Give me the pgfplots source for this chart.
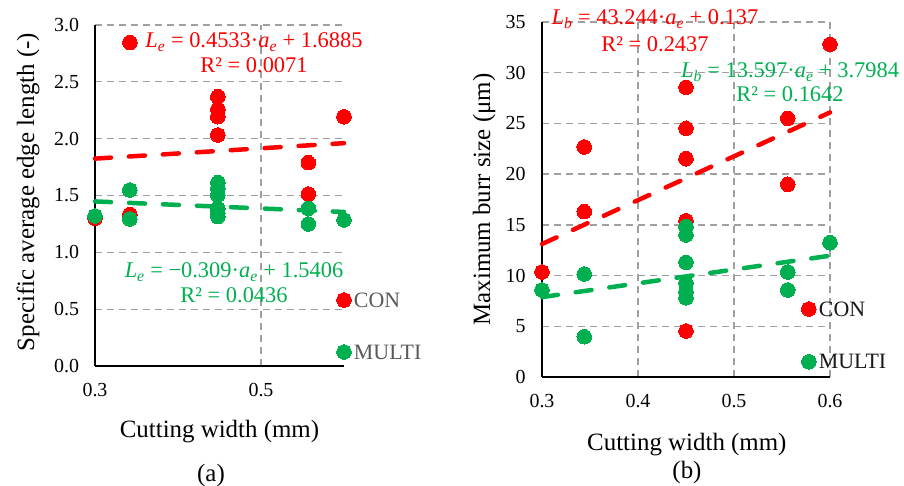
\documentclass[border=0pt]{standalone}
\usepackage{pgfplots}
\pgfplotsset{compat=1.18}
\usepackage{fontspec}
\setmainfont{Liberation Serif}
\definecolor{cred}{RGB}{255,0,0}
\definecolor{cgreen}{RGB}{0,176,80}
\definecolor{gridgray}{RGB}{160,160,160}
\definecolor{leggray}{RGB}{89,89,89}
\newcommand{\sub}[1]{\textsubscript{\textit{#1}}}
\pgfplotsset{
  mystyle/.style={
    scale only axis, clip=false,
    axis lines=left, axis line style={-, black, line width=1.6bp},
    major tick length=0pt,
    xmajorgrids, ymajorgrids,
    major grid style={gridgray, line width=1.3bp, dash pattern=on 7bp off 5bp},
    tick label style={font=\fontsize{20}{24}\selectfont, black},
    /pgf/number format/assume math mode=true,
    xticklabel style={yshift=-13.5bp},
    yticklabel style={xshift=-12.5bp},
    label style={font=\fontsize{25}{30}\selectfont},
    xmin=0.3, xmax=0.6, ymin=0,
    xlabel={Cutting width (mm)},
  },
  dots/.style={color=#1, only marks, mark=*, mark size=7.3bp, mark options={solid, draw=#1, fill=#1, line width=0pt}},
  trend/.style={#1, line width=4.5bp, dash pattern=on 16bp off 18bp, line cap=round},
  legpt/.style n args={2}{color=#1, only marks, mark=*, mark size=7.3bp, mark options={solid, draw=#1, fill=#1, line width=0pt},
    nodes near coords, point meta=explicit symbolic,
    nodes near coords style={anchor=west, inner sep=0pt, xshift=10bp, text=#2, font=\fontsize{22}{26}\selectfont}},
}
\begin{document}
\begin{tikzpicture}
\useasboundingbox (0,0) rectangle (904bp,486bp);
% ---------- (a)
\begin{axis}[mystyle,
  at={(95bp,120bp)}, anchor=south west,
  width=249bp, height=341bp,
  ymax=3,
  xtick={0.3,0.5}, xticklabels={0.3,0.5},
  ytick={0,0.5,...,3.0},
  yticklabel style={/pgf/number format/.cd, fixed, fixed zerofill, precision=1},
  ylabel={Specific average edge length (-)},
  ylabel style={at={(axis description cs:-0.269,0.51)}, anchor=center, rotate=0},
  xlabel style={at={(axis description cs:0.5,-0.191)}, anchor=center},
]
\addplot[dots=cred] coordinates {
(0.3,1.30) (0.342,2.845) (0.342,1.334)
(0.448,2.369) (0.448,2.258) (0.448,2.193) (0.448,2.032) (0.448,1.381)
(0.557,1.789) (0.557,1.513) (0.6,2.193)};
\addplot[dots=cgreen] coordinates {
(0.3,1.32) (0.342,1.548) (0.342,1.293)
(0.448,1.613) (0.448,1.56) (0.448,1.504) (0.448,1.387) (0.448,1.345) (0.448,1.314)
(0.557,1.387) (0.557,1.249) (0.6,1.284)};
\addplot[trend=cred] coordinates {(0.3,1.8245) (0.6,1.9605)};
\addplot[trend=cgreen] coordinates {(0.3,1.4479) (0.6,1.3552)};
\addplot[legpt={cred}{leggray}] coordinates {(0.6,0.58)[CON]};
\addplot[legpt={cgreen}{leggray}] coordinates {(0.6,0.123)[MULTI]};
\end{axis}
% ---------- (b)
\begin{axis}[mystyle,
  at={(542bp,109bp)}, anchor=south west,
  width=288bp, height=355bp,
  ymax=35,
  xtick={0.3,0.4,0.5,0.6},
  xticklabel style={/pgf/number format/.cd, fixed, fixed zerofill, precision=1},
  ytick={0,5,...,35},
  ylabel={Maximum burr size (μm)},
  ylabel style={at={(axis description cs:-0.201,0.5)}, anchor=center},
  xlabel style={at={(axis description cs:0.503,-0.189)}, anchor=center},
  yticklabel style={xshift=-0.5bp},
]
\addplot[dots=cred] coordinates {
(0.3,10.35) (0.344,22.68) (0.344,16.3)
(0.45,28.56) (0.45,24.52) (0.45,21.52) (0.45,15.4) (0.45,4.53)
(0.556,25.5) (0.556,19.0) (0.6,32.8)};
\addplot[dots=cgreen] coordinates {
(0.3,8.58) (0.344,10.15) (0.344,3.97)
(0.45,14.82) (0.45,14.0) (0.45,11.3) (0.45,9.24) (0.45,8.41) (0.45,7.81)
(0.556,10.35) (0.556,8.58) (0.6,13.24)};
\addplot[trend=cred] coordinates {(0.3,13.110) (0.6,26.083)};
\addplot[trend=cgreen] coordinates {(0.3,7.877) (0.6,11.957)};
\addplot[legpt={cred}{black!90}] coordinates {(0.578,6.7)[CON]};
\addplot[legpt={cgreen}{black!90}] coordinates {(0.578,1.5)[MULTI]};
\end{axis}
% ---------- texts
\begin{scope}[every node/.style={anchor=base, inner sep=0pt, font=\fontsize{22.5}{27}\selectfont}]
\node[text=cred] at (254bp,438bp) {\textit{L}\sub{e} = 0.4533·\textit{a}\sub{e} + 1.6885};
\node[text=cred] at (254bp,413bp) {R² = 0.0071};
\node[text=cgreen] at (234bp,208bp) {\textit{L}\sub{e} = −0.309·\textit{a}\sub{e} + 1.5406};
\node[text=cgreen] at (234bp,183bp) {R² = 0.0436};
\node[text=cred] at (655bp,461bp) {\textit{L}\sub{b} = 43.244·\textit{a}\sub{e} + 0.137};
\node[text=cred] at (655bp,434bp) {R² = 0.2437};
\node[text=cgreen] at (790bp,408bp) {\textit{L}\sub{b} = 13.597·\textit{a}\sub{e} + 3.7984};
\node[text=cgreen] at (790bp,384bp) {R² = 0.1642};
\end{scope}
\node[font=\fontsize{25}{30}\selectfont] at (211bp,10bp) {(a)};
\node[font=\fontsize{25}{30}\selectfont] at (687bp,13bp) {(b)};
\end{tikzpicture}
\end{document}
